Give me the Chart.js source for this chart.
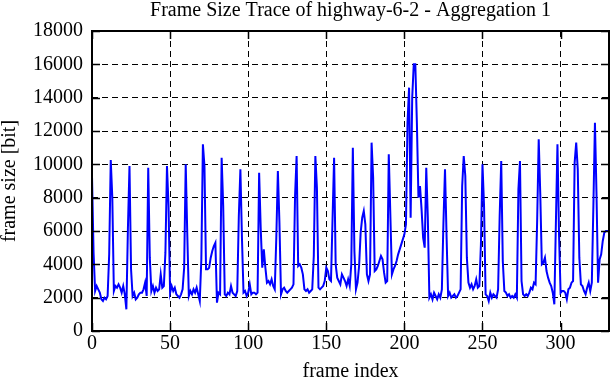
<!DOCTYPE html>
<html>
<head>
<meta charset="utf-8">
<script src="https://cdn.jsdelivr.net/npm/chart.js@4/dist/chart.umd.min.js"></script>
<style>
  html, body { margin: 0; padding: 0; background: #fff; }
  #wrap { width: 612px; height: 382px; }
</style>
</head>
<body>
<div id="wrap"><canvas id="c" width="612" height="382"></canvas></div>
<script>
// frame sizes in bit, one per frame
const frame_size = [
  9300, 4700, 2400, 2700, 2500, 2300, 1900, 1800, 2000, 1900, 2100, 4600,
  10260, 8000, 2400, 2700, 2600, 2800, 2600, 2300, 2700, 2200, 1300, 6200,
  9900, 3700, 2100, 2300, 1900, 2000, 2200, 2300, 2300, 2500, 2900, 2100,
  9800, 4400, 2400, 2700, 2300, 2600, 2400, 2500, 3400, 2600, 2700, 4700,
  9900, 7500, 2300, 2700, 2400, 2600, 2200, 2100, 2000, 2200, 2500, 3800,
  10000, 5800, 2100, 2400, 2200, 2500, 2300, 2600, 2200, 1800, 4300, 11200,
  9900, 3700, 3700, 3800, 4400, 4800, 5100, 5300, 1700, 2300, 2200, 10400,
  7500, 2200, 2100, 2300, 2200, 2700, 2300, 2200, 2100, 2400, 6900, 9700,
  5600, 2300, 2400, 2100, 2300, 2800, 2200, 2300, 2300, 2200, 2300, 9500,
  6200, 3800, 4900, 3800, 2900, 3000, 2800, 3100, 2700, 2500, 5600, 9600,
  6500, 2200, 2500, 2600, 2400, 2300, 2400, 2500, 2600, 2800, 8100, 10500,
  3900, 4000, 3800, 3400, 2500, 2400, 2500, 2300, 2400, 2500, 4500, 10500,
  8600, 2600, 2500, 2600, 2700, 3000, 3800, 3600, 3100, 3000, 6700, 10400,
  4000, 3200, 3000, 2800, 3400, 3200, 3000, 2700, 3100, 2700, 4000, 11000,
  4800, 2500, 2900, 3900, 5900, 6800, 7200, 6400, 3400, 3000, 3400, 11300,
  9200, 3600, 3700, 3900, 4200, 4500, 4300, 3500, 2900, 3000, 10600, 7000,
  3400, 3700, 3900, 4200, 4600, 4900, 5200, 5500, 5800, 6400, 12500, 14600,
  6800, 14000, 16000, 16000, 12500, 8000, 8700, 7300, 5600, 5000, 9800, 6800,
  2000, 2200, 1900, 2300, 2100, 1900, 2200, 2000, 2500, 6500, 9700, 5700,
  2100, 2300, 2000, 2100, 2200, 2000, 2100, 2300, 2500, 8700, 10500, 9300,
  4400, 2900, 2600, 2800, 2500, 2700, 3100, 2600, 2700, 5200, 10000, 7500,
  2200, 2100, 1800, 2300, 2000, 2200, 2100, 2000, 2500, 6900, 10200, 4200,
  2400, 2300, 2100, 2200, 2000, 2100, 2000, 2200, 2000, 8500, 10200, 3000,
  2200, 2100, 2200, 2100, 2300, 2600, 2500, 2900, 2800, 6600, 11500, 8200,
  4000, 4100, 4400, 3600, 3200, 2900, 2700, 2300, 1600, 6500, 11200, 5800,
  2300, 2400, 2400, 2300, 1900, 2500, 2600, 2900, 3000, 10100, 11300, 9700,
  4400, 2800, 2700, 2400, 2200, 2600, 2900, 2400, 2900, 7500, 12500, 8200,
  2900, 4300, 4600, 5400, 5900, 6000, 6000, 6000
];
const frame_index = frame_size.map((v, i) => i);

const x_ticks = [0, 50, 100, 150, 200, 250, 300];
const y_ticks = [0, 2000, 4000, 6000, 8000, 10000, 12000, 14000, 16000, 18000];

const FONT = "'Liberation Serif', 'Times New Roman', serif";

// gnuplot style frame: full border plus inward tick marks
const framePlugin = {
  id: "frame",
  afterDraw(chart) {
    const { ctx, chartArea: a, scales } = chart;
    ctx.save();
    ctx.strokeStyle = "#000";
    ctx.lineWidth = 1.5;
    ctx.beginPath();
    x_ticks.forEach((t) => {
      const px = Math.round(scales.x.getPixelForValue(t)) + 0.5;
      ctx.moveTo(px, a.bottom);
      ctx.lineTo(px, a.bottom - 8);
      ctx.moveTo(px, a.top);
      ctx.lineTo(px, a.top + 8);
    });
    y_ticks.forEach((t) => {
      const py = Math.round(scales.y.getPixelForValue(t)) + 0.5;
      ctx.moveTo(a.left, py);
      ctx.lineTo(a.left + 8, py);
      ctx.moveTo(a.right, py);
      ctx.lineTo(a.right - 8, py);
    });
    ctx.stroke();
    ctx.lineWidth = 2;
    ctx.strokeRect(a.left, a.top, a.right - a.left, a.bottom - a.top);
    ctx.restore();
  },
};

new Chart(document.getElementById("c"), {
  type: "line",
  data: {
    labels: frame_index,
    datasets: [
      {
        label: "frame size",
        data: frame_size,
        borderColor: "rgb(0,0,255)",
        borderWidth: 2,
        pointRadius: 0,
        tension: 0,
        fill: false,
      },
    ],
  },
  options: {
    responsive: false,
    animation: false,
    layout: { padding: { left: 0, right: 3, top: 0, bottom: 0 } },
    plugins: {
      legend: { display: false },
      tooltip: { enabled: false },
      title: {
        display: true,
        text: "Frame Size Trace of highway-6-2 - Aggregation 1",
        fullSize: false,
        color: "#000",
        font: { family: FONT, size: 20, weight: "normal", lineHeight: 1 },
        padding: { top: 1, bottom: 10 },
      },
    },
    scales: {
      x: {
        type: "linear",
        min: 0,
        max: 331,
        afterBuildTicks: (s) => {
          s.ticks = x_ticks.map((v) => ({ value: v }));
        },
        afterFit: (s) => {
          s.height = 51;
        },
        grid: { color: "#000", lineWidth: 1, drawTicks: false },
        border: { display: false, dash: [6, 4] },
        ticks: {
          color: "#000",
          padding: 1,
          maxRotation: 0,
          font: { family: FONT, size: 20, lineHeight: 1.2 },
          callback: (v) => String(v),
        },
        title: {
          display: true,
          text: "frame index",
          color: "#000",
          padding: 0,
          font: { family: FONT, size: 20, lineHeight: 1 },
        },
      },
      y: {
        min: 0,
        max: 18000,
        afterBuildTicks: (s) => {
          s.ticks = y_ticks.map((v) => ({ value: v }));
        },
        afterFit: (s) => {
          s.width = 92;
        },
        grid: { color: "#000", lineWidth: 1, drawTicks: false },
        border: { display: false, dash: [6, 4] },
        ticks: {
          color: "#000",
          padding: 9,
          font: { family: FONT, size: 20, lineHeight: 1.2 },
          callback: (v) => String(v),
        },
        title: {
          display: true,
          text: "frame size [bit]",
          color: "#000",
          padding: 0,
          font: { family: FONT, size: 20, lineHeight: 1 },
        },
      },
    },
  },
  plugins: [framePlugin],
});
</script>
</body>
</html>
